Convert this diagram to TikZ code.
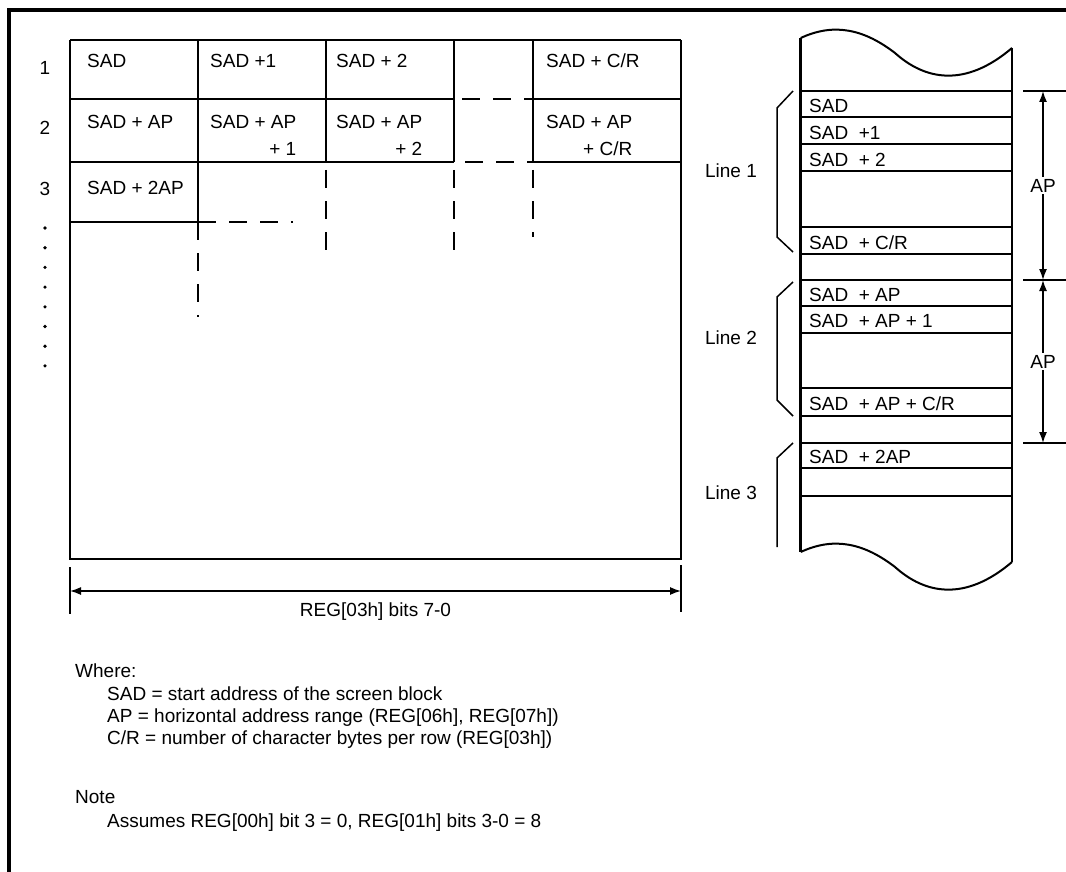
\documentclass[tikz,border=0pt]{standalone}
\usepackage{fontspec}
\setmainfont{Liberation Sans}
\usetikzlibrary{
  arrows.meta,
  positioning,
  calc
}
\tikzset{
  memtext/.style={font=\fontsize{19}{23}\selectfont, inner sep=0pt},
  cell/.style={memtext, anchor=base west},
  celltail/.style={memtext, anchor=base east},
  thinline/.style={line width=1.5pt},
  thickline/.style={line width=2.8pt},
  gapline/.style={line width=1.5pt, dash pattern=on 18pt off 13pt},
  gapthick/.style={gapline, line width=2.8pt},
  frameline/.style={line width=3.5pt},
  dimarrow/.style={{Latex[length=11pt,width=8pt]}-{Latex[length=11pt,width=8pt]}, line width=1.4pt},
  bracket/.style={line width=1.5pt},
  wave/.style={line width=2pt}
}
\begin{document}
\begin{tikzpicture}[x=1pt, y=-1pt]
  \useasboundingbox (0,0) rectangle (1066,872);
  \draw[frameline] (9,880) -- (9,10) -- (1070,10);

  % screen table
  \draw[thickline] (70,40) -- (681,40);
  \draw[thinline] (70,40) -- (70,559) -- (681,559) -- (681,40);
  \draw[thickline] (70,99) -- (454,99) (533,99) -- (681,99);
  \draw[gapthick] (462,99) -- (533,99);
  \draw[thinline] (70,162) -- (454,162) (533,162) -- (681,162);
  \draw[gapline] (465,162) -- (533,162);
  \draw[thinline] (70,222) -- (198,222);
  \draw[gapline] (198,222) -- (293,222);
  \draw[thinline] (198,40) -- (198,222);
  \draw[gapline] (198,222) -- (198,317);
  \foreach \x/\e in {326/257, 454/257, 533/237}{
    \draw[thinline] (\x,40) -- (\x,162);
    \draw[gapline] (\x,170) -- (\x,\e);
  }

  \node[memtext, anchor=base] (r1) at (45,75) {1};
  \node[memtext, anchor=base] (r2) at (45,135) {2};
  \node[memtext, anchor=base] (r3) at (45,195) {3};
  \foreach \i in {0,...,7}{\fill (45,{228+19.7*\i}) circle (1.8pt);}

  \node[cell] (c11) at (87,68) {SAD};
  \node[cell] (c12) at (210,68) {SAD +1};
  \node[cell] (c13) at (336,68) {SAD + 2};
  \node[cell] (c15) at (546,68) {SAD + C/R};
  \node[cell] (c21) at (87,129) {SAD + AP};
  \node[cell] (c22) at (210,129) {SAD + AP};
  \node[cell] (c23) at (336,129) {SAD + AP};
  \node[cell] (c25) at (546,129) {SAD + AP};
  \node[celltail, yshift=-26.7pt] (c22b) at (c22.base east) {+ 1};
  \node[celltail, yshift=-26.7pt] (c23b) at (c23.base east) {+ 2};
  \node[celltail, yshift=-26.7pt] (c25b) at (c25.base east) {+ C/R};
  \node[cell] (c31) at (87,194) {SAD + 2AP};

  \coordinate (dl) at (70,591);
  \coordinate (dr) at (681,591);
  \draw[thinline] (70,567) -- (70,614) (681,565) -- (681,612);
  \draw[dimarrow] (dl) -- (dr);
  \node[memtext, anchor=base] (regw) at (375.5,616) {REG[03h] bits 7-0};

  % legend
  \node[memtext, anchor=base west] (where) at (75,677) {Where:};
  \node[memtext, anchor=base west] (dsad) at (107,700) {SAD = start address of the screen block};
  \node[memtext, anchor=base west] (dap) at (107,722) {AP = horizontal address range (REG[06h], REG[07h])};
  \node[memtext, anchor=base west] (dcr) at (107,744) {C/R = number of character bytes per row (REG[03h])};
  \node[memtext, anchor=base west] (note) at (75,803) {Note};
  \node[memtext, anchor=base west] (assume) at (107,827) {Assumes REG[00h] bit 3 = 0, REG[01h] bits 3-0 = 8};

  % memory column
  \foreach \s in {0,514}{
    \draw[wave] (800.7,{38+\s}) .. controls (835,{22+\s}) and (865,{30+\s}) .. (895,{53+\s})
      .. controls (925,{80+\s}) and (965,{88+\s}) .. (1012,{48+\s});
  }
  \draw[thickline] (800.7,38) -- (800.7,552);
  \draw[thinline] (1012,48) -- (1012,562);
  \foreach \y in {91,117,171,227,254,280,306,333,388,443,468}{\draw[thinline] (800,\y) -- (1012,\y);}
  \foreach \y in {144,416,496}{\draw[thickline] (800,\y) -- (1012,\y);}

  \node[cell] (m1) at (809,113) {SAD};
  \node[cell] (m2) at (809,140) {SAD~ +1};
  \node[cell] (m3) at (809,167) {SAD~ + 2};
  \node[cell] (m4) at (809,249) {SAD~ + C/R};
  \node[cell] (m5) at (809,301) {SAD~ + AP};
  \node[cell] (m6) at (809,327) {SAD~ + AP + 1};
  \node[cell] (m7) at (809,410) {SAD~ + AP + C/R};
  \node[cell] (m8) at (809,463) {SAD~ + 2AP};

  \draw[bracket] (793,91) -- (777,108) -- (777,237) -- (793,252);
  \draw[bracket] (793,282) -- (777,297) -- (777,400) -- (793,416);
  \draw[bracket] (793,443) -- (777,458) -- (777,547);
  \node[memtext, anchor=base] (l1) at (731,178) {Line 1};
  \node[memtext, anchor=base] (l2) at (731,344) {Line 2};
  \node[memtext, anchor=base] (l3) at (731,499) {Line 3};

  \coordinate (a1) at (1043,91);
  \coordinate (a2) at (1043,280);
  \coordinate (a3) at (1043,443);
  \foreach \y in {91,280,443}{\draw[thinline] (1023,\y) -- (1070,\y);}
  \draw[dimarrow] (a1) -- node[memtext, fill=white, inner sep=2pt] (ap1) {AP} (a2);
  \draw[dimarrow] (a2) -- node[memtext, fill=white, inner sep=2pt] (ap2) {AP} (a3);
\end{tikzpicture}
\end{document}
